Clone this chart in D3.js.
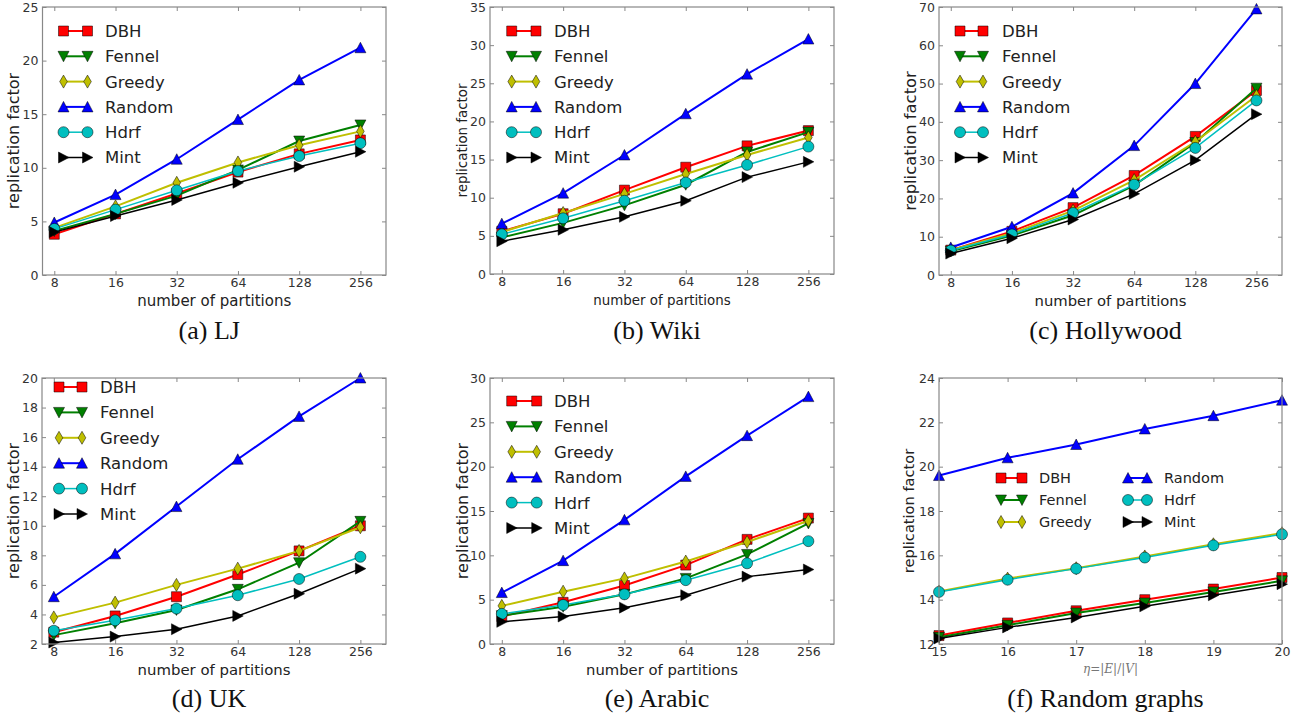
<!DOCTYPE html>
<html>
<head>
<meta charset="UTF-8">
<title>replication factor</title>
<style>
  body { margin: 0; background: #fff; }
  text.tick-label { font-family: "DejaVu Sans", sans-serif; fill: #333; }
  text.axis-title { font-family: "DejaVu Sans", sans-serif; fill: #222; }
  text.legend-text { font-family: "DejaVu Sans", sans-serif; fill: #222; }
  text.caption { font-family: "Palatino Linotype", Palatino, "Liberation Serif", serif; fill: #111; }
</style>
<script src="https://cdn.jsdelivr.net/npm/d3@7"></script>
</head>
<body>
<div id="chart"></div>
<script>
// x values
const partitions = [8, 16, 32, 64, 128, 256];
const eta = [15, 16, 17, 18, 19, 20];
const seriesNames = ["DBH", "Fennel", "Greedy", "Random", "Hdrf", "Mint"];

// values, one row per series (same order as seriesNames)
const ljValues = [
  [3.8, 5.7, 7.6, 9.6, 11.3, 12.6],
  [4.1, 5.7, 7.4, 9.8, 12.5, 14.0],
  [4.4, 6.4, 8.6, 10.5, 12.1, 13.4],
  [4.9, 7.5, 10.8, 14.5, 18.2, 21.2],
  [4.3, 6.1, 7.9, 9.7, 11.1, 12.3],
  [4.0, 5.5, 7.0, 8.6, 10.1, 11.5]
];
const wikiValues = [
  [5.6, 7.9, 11.0, 14.0, 16.8, 18.8],
  [4.8, 6.7, 9.0, 11.7, 16.0, 18.6],
  [5.5, 8.0, 10.5, 13.1, 15.6, 17.9],
  [6.6, 10.6, 15.6, 21.0, 26.2, 30.8],
  [5.2, 7.3, 9.6, 12.0, 14.3, 16.7],
  [4.3, 5.8, 7.5, 9.6, 12.7, 14.7]
];
const hollywoodValues = [
  [6.5, 11.4, 17.6, 26.0, 36.2, 48.2],
  [6.2, 10.3, 15.6, 23.4, 34.6, 48.8],
  [6.5, 10.9, 16.8, 24.8, 34.8, 46.8],
  [7.2, 12.6, 21.4, 33.8, 50.0, 69.5],
  [6.4, 10.6, 16.2, 23.6, 33.2, 45.6],
  [5.6, 9.6, 14.5, 21.2, 30.0, 42.0]
];
const ukValues = [
  [2.8, 3.9, 5.2, 6.7, 8.3, 10.0],
  [2.6, 3.4, 4.3, 5.7, 7.5, 10.3],
  [3.8, 4.8, 6.0, 7.1, 8.3, 9.9],
  [5.2, 8.1, 11.3, 14.5, 17.4, 20.0],
  [2.9, 3.6, 4.4, 5.3, 6.4, 7.9],
  [2.1, 2.5, 3.0, 3.9, 5.4, 7.1]
];
const arabicValues = [
  [3.1, 4.7, 6.6, 8.9, 11.8, 14.2],
  [3.2, 4.2, 5.6, 7.4, 10.1, 13.6],
  [4.3, 5.9, 7.4, 9.3, 11.5, 13.9],
  [5.8, 9.4, 14.0, 18.9, 23.5, 27.9],
  [3.4, 4.4, 5.6, 7.2, 9.1, 11.6],
  [2.5, 3.1, 4.1, 5.5, 7.6, 8.4]
];
const randomGraphValues = [
  [12.38, 12.95, 13.5, 14.0, 14.48, 15.0],
  [12.3, 12.85, 13.4, 13.85, 14.35, 14.85],
  [14.37, 14.95, 15.42, 15.95, 16.5, 17.0],
  [19.6, 20.4, 21.0, 21.7, 22.3, 23.0],
  [14.35, 14.9, 15.4, 15.9, 16.45, 16.95],
  [12.25, 12.75, 13.2, 13.7, 14.2, 14.7]
];

// y ticks for each panel
const ljTicks = [0, 5, 10, 15, 20, 25];
const wikiTicks = [0, 5, 10, 15, 20, 25, 30, 35];
const hollywoodTicks = [0, 10, 20, 30, 40, 50, 60, 70];
const ukTicks = [2, 4, 6, 8, 10, 12, 14, 16, 18, 20];
const arabicTicks = [0, 5, 10, 15, 20, 25, 30];
const randomGraphTicks = [12, 14, 16, 18, 20, 22, 24];

const captions = ["(a) LJ", "(b) Wiki", "(c) Hollywood", "(d) UK", "(e) Arabic", "(f) Random graphs"];

// styles
const colors = ["#ff0000", "#008000", "#bfbf00", "#0000ff", "#00bfbf", "#000000"];
const widths = [2, 2, 2, 2, 1.5, 1.5];
const markers = [
  "M-5,-5H5V5H-5Z",
  "M-5.5,-5L5.5,-5L0,5.5Z",
  "M0,-6.5L3.8,0L0,6.5L-3.8,0Z",
  "M0,-5.5L5.5,5L-5.5,5Z",
  "M5.5,0A5.5,5.5 0 1,1 -5.5,0A5.5,5.5 0 1,1 5.5,0Z",
  "M5.5,0L-5,-5.5L-5,5.5Z"
];

const W = 1311, H = 719;
const svg = d3.select("#chart").append("svg")
  .attr("width", W).attr("height", H);
svg.append("rect").attr("width", W).attr("height", H).attr("fill", "#fff");

const panels = [
  { values: ljValues, ticks: ljTicks, x0: 42.5, x1: 386, y0: 7, y1: 275, ylabX: 19, ylabSize: 16, xlabSize: 15,
    leg: { m1: 21, m2: 45, t: 62.5, top: 24, step: 25.3 }, capY: 339 },
  { values: wikiValues, ticks: wikiTicks, x0: 490, x1: 834, y0: 7, y1: 274, ylabX: 467, ylabSize: 13.4, xlabSize: 13.4,
    leg: { m1: 21.7, m2: 46, t: 64, top: 24, step: 25.3 }, capY: 339 },
  { values: hollywoodValues, ticks: hollywoodTicks, x0: 939, x1: 1282, y0: 7, y1: 275, ylabX: 916, ylabSize: 16.4, xlabSize: 14.8,
    leg: { m1: 21, m2: 44, t: 63, top: 24, step: 25.3 }, capY: 339 },
  { values: ukValues, ticks: ukTicks, x0: 42, x1: 386, y0: 378, y1: 644, ylabX: 19, ylabSize: 16, xlabSize: 14.9,
    leg: { m1: 17, m2: 40, t: 58, top: 9, step: 25.4 }, capY: 707 },
  { values: arabicValues, ticks: arabicTicks, x0: 490, x1: 834, y0: 378, y1: 644, ylabX: 468, ylabSize: 16, xlabSize: 14.8,
    leg: { m1: 21.7, m2: 46.7, t: 64, top: 23, step: 25.4 }, capY: 707 },
  { values: randomGraphValues, ticks: randomGraphTicks, x0: 939, x1: 1282, y0: 378, y1: 644, ylabX: 914, ylabSize: 14.6,
    leg: null, capY: 707, eta: true }
];

panels.forEach((p, pi) => {
  const g = svg.append("g");
  const xs = p.eta ? eta : partitions;
  const x = p.eta
    ? d3.scaleLinear().domain([15, 20]).range([p.x0, p.x1])
    : d3.scaleLog().base(2).domain([7, 342]).range([p.x0, p.x1]);
  const y = d3.scaleLinear().domain(d3.extent(p.ticks)).range([p.y1, p.y0]);

  // axes with inward ticks
  const bottom = g.append("g").attr("transform", "translate(0," + p.y1 + ")")
    .call(d3.axisBottom(x).tickValues(xs).tickFormat(d3.format("d"))
      .tickSizeInner(-4).tickSizeOuter(0).tickPadding(3.5));
  const left = g.append("g").attr("transform", "translate(" + p.x0 + ",0)")
    .call(d3.axisLeft(y).tickValues(p.ticks).tickFormat(d3.format("d"))
      .tickSizeInner(-4).tickSizeOuter(0).tickPadding(4));
  const top = g.append("g").attr("transform", "translate(0," + p.y0 + ")")
    .call(d3.axisTop(x).tickValues(xs).tickFormat("").tickSizeInner(-4).tickSizeOuter(0));
  const right = g.append("g").attr("transform", "translate(" + p.x1 + ",0)")
    .call(d3.axisRight(y).tickValues(p.ticks).tickFormat("").tickSizeInner(-4).tickSizeOuter(0));
  [bottom, left, top, right].forEach(a => {
    a.select(".domain").remove();
    a.selectAll("line").attr("stroke", "#888");
    a.selectAll("text").attr("class", "tick-label").attr("fill", null)
      .style("font-size", "12.5px").attr("font-family", null).attr("font-size", null);
  });

  // series
  p.values.forEach((vals, si) => {
    const pts = vals.map((v, i) => [x(xs[i]), y(v)]);
    g.append("path")
      .attr("d", d3.line()(pts))
      .attr("fill", "none")
      .attr("stroke", colors[si])
      .attr("stroke-width", widths[si]);
    g.selectAll(null).data(pts).enter().append("path")
      .attr("d", markers[si])
      .attr("transform", d => "translate(" + d[0] + "," + d[1] + ")")
      .attr("fill", colors[si])
      .attr("stroke", "#000")
      .attr("stroke-width", 0.5);
  });

  // frame
  g.append("rect")
    .attr("x", p.x0).attr("y", p.y0)
    .attr("width", p.x1 - p.x0).attr("height", p.y1 - p.y0)
    .attr("fill", "none").attr("stroke", "#888").attr("stroke-width", 1.2);

  // legend
  const legItems = seriesNames.map((name, si) => {
    if (p.leg) {
      return { name, si, m1: p.x0 + p.leg.m1, m2: p.x0 + p.leg.m2, tx: p.x0 + p.leg.t,
        ty: p.y0 + p.leg.top + si * p.leg.step, size: 16.5 };
    }
    const col = si < 3 ? 0 : 1;
    const row = si % 3;
    return { name, si, m1: p.x0 + (col ? 189 : 62), m2: p.x0 + (col ? 208 : 83), tx: p.x0 + (col ? 225 : 100),
      ty: p.y0 + 100 + row * 22, size: 14.5 };
  });
  const leg = g.selectAll(".legend").data(legItems).enter().append("g").attr("class", "legend");
  leg.append("line")
    .attr("x1", d => d.m1).attr("x2", d => d.m2)
    .attr("y1", d => d.ty).attr("y2", d => d.ty)
    .attr("stroke", d => colors[d.si]).attr("stroke-width", d => widths[d.si]);
  leg.each(function(d) {
    d3.select(this).selectAll(null).data([d.m1, d.m2]).enter().append("path")
      .attr("d", markers[d.si])
      .attr("transform", m => "translate(" + m + "," + d.ty + ")")
      .attr("fill", colors[d.si]).attr("stroke", "#000").attr("stroke-width", 0.5);
  });
  leg.append("text").attr("class", "legend-text")
    .attr("x", d => d.tx).attr("y", d => d.ty).attr("dy", "0.36em")
    .style("font-size", d => d.size + "px")
    .text(d => d.name);

  // axis titles
  const cx = (p.x0 + p.x1) / 2;
  g.append("text").attr("class", "axis-title")
    .attr("transform", "translate(" + p.ylabX + "," + (p.y0 + p.y1) / 2 + ") rotate(-90)")
    .attr("text-anchor", "middle")
    .style("font-size", p.ylabSize + "px")
    .text("replication factor");
  if (p.eta) {
    const t = g.append("text")
      .attr("x", cx).attr("y", p.y1 + 29).attr("text-anchor", "middle")
      .style("font-family", "'DejaVu Serif', serif").style("font-size", "12px").attr("fill", "#777");
    t.append("tspan").style("font-style", "italic").text("η");
    t.append("tspan").text("=|");
    t.append("tspan").style("font-style", "italic").text("E");
    t.append("tspan").text("|/|");
    t.append("tspan").style("font-style", "italic").text("V");
    t.append("tspan").text("|");
  } else {
    g.append("text").attr("class", "axis-title")
      .attr("x", cx).attr("y", p.y1 + 31).attr("text-anchor", "middle")
      .style("font-size", p.xlabSize + "px")
      .text("number of partitions");
  }

  // caption
  g.append("text").attr("class", "caption")
    .attr("x", cx - 5).attr("y", p.capY).attr("text-anchor", "middle")
    .style("font-size", "26px")
    .text(captions[pi]);
});
</script>
</body>
</html>
